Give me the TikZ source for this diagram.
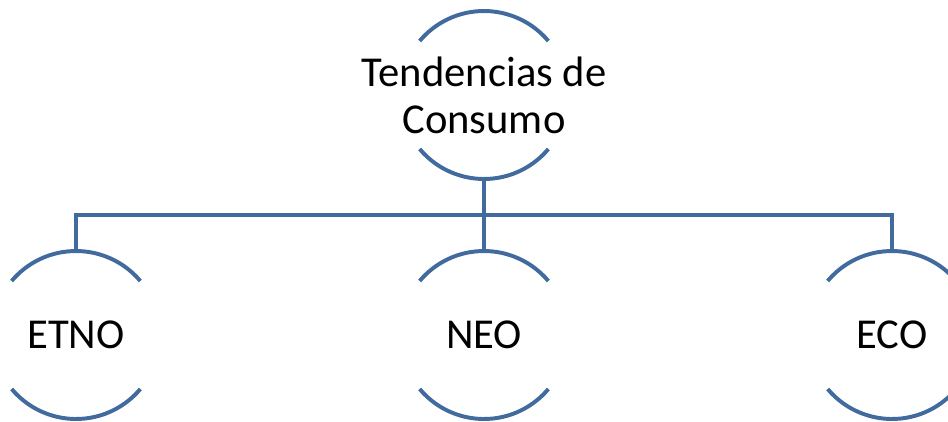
\documentclass[tikz,border=0pt]{standalone}
\usepackage{fontspec}
\setmainfont{Carlito}
\usepackage{xcolor}
\definecolor{arcblue}{RGB}{65,106,158}
\def\rad{2.1cm}

\begin{document}
\begin{tikzpicture}[line width=2.8pt,draw=arcblue]
    \tikzstyle{trend}=[circle,minimum size=2*\rad,inner sep=0pt,outer sep=0pt]
    \tikzstyle{label text}=[align=center,font=\fontsize{30.3}{33.5}\selectfont]
    \tikzstyle{arcs}=[draw=arcblue,line width=2.8pt]
    \tikzstyle{conn}=[draw=arcblue,line width=2.8pt]

    \useasboundingbox (0,0) rectangle (23.7,10.525);

    % Draw the top node
    \node[trend] (T) at (12.1, 8.15) {};

    % Draw the three lower nodes
    \node[trend] (E) at (1.9, 2.15) {};
    \node[trend] (N) at (12.1, 2.15) {};
    \node[trend] (C) at (22.3, 2.15) {};

    % Texts inside the circles
    \node[label text] (T-text) at (T) {Tendencias de\\Consumo};
    \node[label text] (E-text) at (E) {ETNO};
    \node[label text] (N-text) at (N) {NEO};
    \node[label text] (C-text) at (C) {ECO};

    % Arcs above and below every text
    \foreach \name in {T,E,N,C}
    {
        \draw[arcs] (\name.40) arc (40:140:\rad);
        \draw[arcs] (\name.220) arc (220:320:\rad);
    }

    % Connect the top node with the lower ones
    \draw[conn] (T.south) -- (N.north);
    \draw[conn] (E.north) -- ++(0,0.9) -| (C.north);
\end{tikzpicture}
\end{document}
